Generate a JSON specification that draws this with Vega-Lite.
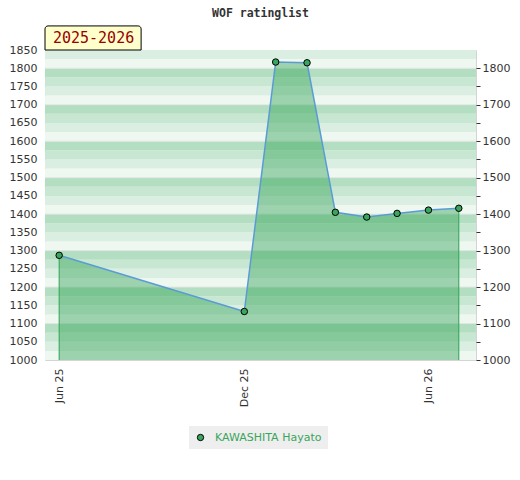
{
  "$schema": "https://vega.github.io/schema/vega-lite/v6.json",
  "width": 431,
  "height": 310,
  "autosize": {"type": "none"},
  "padding": {"left": 45, "top": 50, "right": 44, "bottom": 120},
  "background": "white",
  "title": {"text": "WOF ratinglist", "font": "DejaVu Sans Mono", "fontWeight": "bold", "fontSize": 11.5, "color": "#333333", "offset": 6, "frame": "group"},
  "config": {
    "view": {"stroke": "#d4d4d4", "strokeWidth": 1},
    "axis": {"labelFont": "DejaVu Sans", "labelFontSize": 11, "labelColor": "#333333", "domain": false, "grid": false}
  },
  "datasets": {
    "bands": [
      {"lo": 1000, "hi": 1025, "shade": "a"}, {"lo": 1025, "hi": 1050, "shade": "b"}, {"lo": 1050, "hi": 1075, "shade": "c"}, {"lo": 1075, "hi": 1100, "shade": "d"},
      {"lo": 1100, "hi": 1125, "shade": "a"}, {"lo": 1125, "hi": 1150, "shade": "b"}, {"lo": 1150, "hi": 1175, "shade": "c"}, {"lo": 1175, "hi": 1200, "shade": "d"},
      {"lo": 1200, "hi": 1225, "shade": "a"}, {"lo": 1225, "hi": 1250, "shade": "b"}, {"lo": 1250, "hi": 1275, "shade": "c"}, {"lo": 1275, "hi": 1300, "shade": "d"},
      {"lo": 1300, "hi": 1325, "shade": "a"}, {"lo": 1325, "hi": 1350, "shade": "b"}, {"lo": 1350, "hi": 1375, "shade": "c"}, {"lo": 1375, "hi": 1400, "shade": "d"},
      {"lo": 1400, "hi": 1425, "shade": "a"}, {"lo": 1425, "hi": 1450, "shade": "b"}, {"lo": 1450, "hi": 1475, "shade": "c"}, {"lo": 1475, "hi": 1500, "shade": "d"},
      {"lo": 1500, "hi": 1525, "shade": "a"}, {"lo": 1525, "hi": 1550, "shade": "b"}, {"lo": 1550, "hi": 1575, "shade": "c"}, {"lo": 1575, "hi": 1600, "shade": "d"},
      {"lo": 1600, "hi": 1625, "shade": "a"}, {"lo": 1625, "hi": 1650, "shade": "b"}, {"lo": 1650, "hi": 1675, "shade": "c"}, {"lo": 1675, "hi": 1700, "shade": "d"},
      {"lo": 1700, "hi": 1725, "shade": "a"}, {"lo": 1725, "hi": 1750, "shade": "b"}, {"lo": 1750, "hi": 1775, "shade": "c"}, {"lo": 1775, "hi": 1800, "shade": "d"},
      {"lo": 1800, "hi": 1825, "shade": "a"}, {"lo": 1825, "hi": 1850, "shade": "b"}
    ],
    "grid": [
      {"v": 1100}, {"v": 1200}, {"v": 1300}, {"v": 1400}, {"v": 1500}, {"v": 1600}, {"v": 1700}, {"v": 1800}
    ],
    "ratings": [
      {"date": "2025-06-01", "rating": 1287, "player": "KAWASHITA Hayato"},
      {"date": "2025-12-01", "rating": 1133, "player": "KAWASHITA Hayato"},
      {"date": "2026-01-01", "rating": 1817, "player": "KAWASHITA Hayato"},
      {"date": "2026-02-01", "rating": 1815, "player": "KAWASHITA Hayato"},
      {"date": "2026-03-01", "rating": 1405, "player": "KAWASHITA Hayato"},
      {"date": "2026-04-01", "rating": 1392, "player": "KAWASHITA Hayato"},
      {"date": "2026-05-01", "rating": 1402, "player": "KAWASHITA Hayato"},
      {"date": "2026-06-01", "rating": 1411, "player": "KAWASHITA Hayato"},
      {"date": "2026-07-01", "rating": 1416, "player": "KAWASHITA Hayato"}
    ],
    "season": [{"label": "2025-2026"}]
  },
  "resolve": {"axis": {"y": "independent"}, "scale": {"fill": "independent"}},
  "layer": [
    {
      "data": {"name": "bands"},
      "mark": {"type": "rect"},
      "encoding": {
        "y": {"field": "lo", "type": "quantitative", "scale": {"domain": [1000, 1850], "nice": false, "zero": false},
              "axis": {"orient": "left", "title": null, "values": [1000,1050,1100,1150,1200,1250,1300,1350,1400,1450,1500,1550,1600,1650,1700,1750,1800,1850], "format": "d", "ticks": false, "labelPadding": 8}},
        "y2": {"field": "hi"},
        "fill": {"field": "shade", "type": "nominal", "legend": null,
                 "scale": {"domain": ["a", "b", "c", "d"], "range": ["#eff7f1", "#dbeee2", "#c7e7d2", "#b3dec2"]}}
      }
    },
    {
      "data": {"name": "grid"},
      "mark": {"type": "rule", "color": "#e2e6e3", "strokeWidth": 1},
      "encoding": {
        "y": {"field": "v", "type": "quantitative", "scale": {"domain": [1000, 1850], "nice": false, "zero": false}, "axis": null}
      }
    },
    {
      "data": {"name": "ratings"},
      "mark": {"type": "area", "color": "#2ea354", "opacity": 0.43},
      "encoding": {
        "x": {"field": "date", "type": "temporal",
              "scale": {"domain": [1747526400000, 1784332800000]},
              "axis": {"orient": "bottom", "title": null, "values": [1748736000000, 1764547200000, 1780272000000], "format": "%b %y", "labelAngle": -90, "ticks": false, "labelPadding": 8, "labelOverlap": false, "labelFlush": false}},
        "y": {"field": "rating", "type": "quantitative", "scale": {"domain": [1000, 1850], "nice": false, "zero": false}, "axis": null},
        "y2": {"datum": 1000}
      }
    },
    {
      "data": {"name": "ratings"},
      "mark": {"type": "line", "color": "#5b9bd5", "strokeWidth": 1.5},
      "encoding": {
        "x": {"field": "date", "type": "temporal",
              "axis": {"orient": "bottom", "title": null, "values": [1748736000000, 1764547200000, 1780272000000], "format": "%b %y", "labelAngle": -90, "ticks": false, "labelPadding": 8, "labelOverlap": false, "labelFlush": false}},
        "y": {"field": "rating", "type": "quantitative", "scale": {"domain": [1000, 1850], "nice": false, "zero": false}, "axis": null}
      }
    },
    {
      "data": {"name": "ratings"},
      "transform": [{"filter": {"or": [
        {"field": "date", "equal": {"year": 2025, "month": 6, "date": 1, "utc": true}},
        {"field": "date", "equal": {"year": 2026, "month": 7, "date": 1, "utc": true}}
      ]}}],
      "mark": {"type": "rule", "color": "#2ea354", "strokeWidth": 1},
      "encoding": {
        "x": {"field": "date", "type": "temporal",
              "axis": {"orient": "bottom", "title": null, "values": [1748736000000, 1764547200000, 1780272000000], "format": "%b %y", "labelAngle": -90, "ticks": false, "labelPadding": 8, "labelOverlap": false, "labelFlush": false}},
        "y": {"field": "rating", "type": "quantitative", "scale": {"domain": [1000, 1850], "nice": false, "zero": false}, "axis": null},
        "y2": {"datum": 1000}
      }
    },
    {
      "data": {"name": "ratings"},
      "mark": {"type": "point", "filled": true, "stroke": "#000000", "strokeWidth": 1, "size": 42, "opacity": 1},
      "encoding": {
        "x": {"field": "date", "type": "temporal",
              "axis": {"orient": "bottom", "title": null, "values": [1748736000000, 1764547200000, 1780272000000], "format": "%b %y", "labelAngle": -90, "ticks": false, "labelPadding": 8, "labelOverlap": false, "labelFlush": false}},
        "y": {"field": "rating", "type": "quantitative", "scale": {"domain": [1000, 1850], "nice": false, "zero": false},
              "axis": {"orient": "right", "title": null, "values": [1000,1050,1100,1150,1200,1250,1300,1350,1400,1450,1500,1550,1600,1650,1700,1750,1800],
                       "format": "d", "labelExpr": "datum.value % 100 === 0 ? datum.label : ''", "ticks": true, "tickSize": 4, "tickColor": "#333333", "labelPadding": 2}},
        "fill": {"field": "player", "type": "nominal", "scale": {"range": ["#3aa55d"]},
                 "legend": {"title": null, "orient": "none", "legendX": 144, "legendY": 376, "fillColor": "#eeeeee", "padding": 6,
                            "symbolType": "circle", "symbolSize": 40, "symbolStrokeColor": "#000000", "symbolStrokeWidth": 1,
                            "labelColor": "#3aa55d", "labelFont": "DejaVu Sans", "labelFontSize": 11, "labelOffset": 9}}
      }
    },
    {
      "data": {"name": "season"},
      "mark": {"type": "rect", "fill": "#ffffcc", "stroke": "#000000", "strokeWidth": 1, "cornerRadiusTopLeft": 3, "cornerRadiusTopRight": 3},
      "encoding": {
        "x": {"datum": 1747526400000, "type": "temporal",
              "axis": {"orient": "bottom", "title": null, "values": [1748736000000, 1764547200000, 1780272000000], "format": "%b %y", "labelAngle": -90, "ticks": false, "labelPadding": 8, "labelOverlap": false, "labelFlush": false}},
        "x2": {"datum": 1755734400000},
        "y": {"datum": 1850, "type": "quantitative", "axis": null},
        "y2": {"datum": 1916}
      }
    },
    {
      "data": {"name": "season"},
      "mark": {"type": "text", "font": "DejaVu Sans Mono", "fontSize": 15, "color": "#990000", "align": "center", "baseline": "middle"},
      "encoding": {
        "text": {"field": "label", "type": "nominal"},
        "x": {"datum": 1751673600000, "type": "temporal",
              "axis": {"orient": "bottom", "title": null, "values": [1748736000000, 1764547200000, 1780272000000], "format": "%b %y", "labelAngle": -90, "ticks": false, "labelPadding": 8, "labelOverlap": false, "labelFlush": false}},
        "y": {"datum": 1883, "type": "quantitative", "axis": null}
      }
    }
  ]
}
